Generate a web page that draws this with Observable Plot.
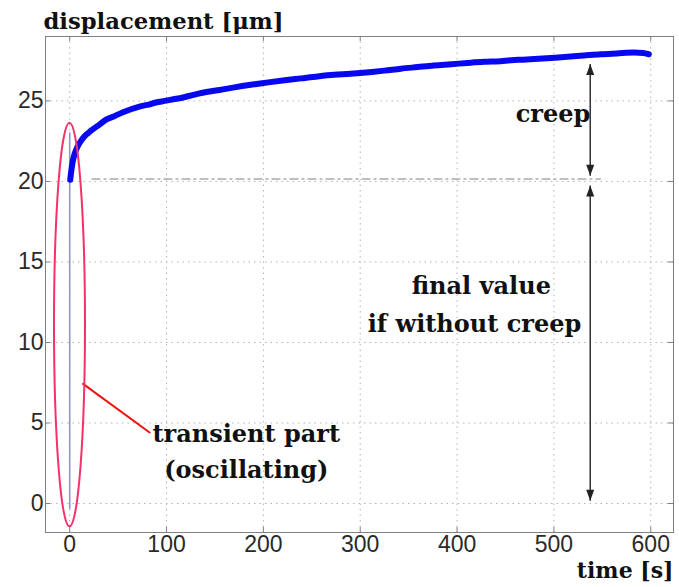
<!DOCTYPE html>
<html><head><meta charset="utf-8">
<script src="https://cdn.jsdelivr.net/npm/d3@7"></script>
<script src="https://cdn.jsdelivr.net/npm/@observablehq/plot@0.6"></script>
<style>body{margin:0;background:#fff}</style>
</head><body><div id="chart"></div>
<script>
// measured creep curve (time in s, displacement in µm)
const time = [0.5, 1.5, 3, 5, 8, 12, 17, 22, 30, 38, 46, 55, 64, 72, 80, 89, 98, 107, 116, 124, 133, 141, 155, 170, 187, 205, 222, 239, 256, 273, 290, 300, 312, 325, 342, 359, 376, 394, 411, 428, 445, 456, 468, 480, 497, 514, 531, 548, 565, 583, 592, 598];
const displacement = [20.1, 20.6, 21.2, 21.7, 22.15, 22.55, 22.9, 23.15, 23.5, 23.85, 24.05, 24.3, 24.5, 24.65, 24.75, 24.9, 25.0, 25.1, 25.2, 25.32, 25.45, 25.55, 25.68, 25.84, 26.0, 26.15, 26.28, 26.4, 26.52, 26.62, 26.68, 26.73, 26.8, 26.88, 27.0, 27.1, 27.2, 27.28, 27.36, 27.43, 27.47, 27.53, 27.56, 27.6, 27.67, 27.74, 27.82, 27.9, 27.95, 28.0, 27.97, 27.9];
// transient (oscillating) part at t = 0
const transientTime = [0, 0];
const transientDisp = [-0.3, 23.0];
// ticks and axis ranges
const xTicks = [0, 100, 200, 300, 400, 500, 600];
const yTicks = [0, 5, 10, 15, 20, 25];
const xDomain = [-25, 623.5];
const yDomain = [-1.8, 29];
// final value without creep (dash-dot reference line)
const refLineTime = [23, 548];
const refLineDisp = [20.15, 20.15];
// arrows
const arrowTime = 537.5;
const creepRange = [20.35, 27.3];
const finalRange = [0.17, 19.75];
// ellipse around transient part
const ellipseCenter = [0.3, 11.08];
const ellipseRadii = [16, 12.53];
// leader line
const leaderTime = [13.8, 82.5];
const leaderDisp = [7.43, 4.41];
// annotations
const annoText = ["creep", "final value", "if without creep", "transient part", "(oscillating)"];
const annoTime = [499, 425, 418, 182.3, 182.3];
const annoDisp = [23.66, 13.02, 10.62, 3.79, 1.61];
const titleText = "displacement [μm]";
const xLabelText = "time [s]";

const curve = time.map((t, i) => ({t, d: displacement[i]}));
const transient = transientTime.map((t, i) => ({t, d: transientDisp[i]}));
const refLine = refLineTime.map((t, i) => ({t, d: refLineDisp[i]}));
const leader = leaderTime.map((t, i) => ({t, d: leaderDisp[i]}));
const anno = annoText.map((s, i) => ({s, t: annoTime[i], d: annoDisp[i]}));
const arrows = [{t: arrowTime, d1: creepRange[0], d2: creepRange[1]}, {t: arrowTime, d1: finalRange[0], d2: finalRange[1]}];
const upTips = [creepRange[1], finalRange[1]].map(d => ({t: arrowTime, d}));
const downTips = [creepRange[0], finalRange[0]].map(d => ({t: arrowTime, d}));

const headUp = {draw(ctx) { ctx.moveTo(0, 0); ctx.lineTo(-4, 11); ctx.lineTo(4, 11); ctx.closePath(); }};
const headDown = {draw(ctx) { ctx.moveTo(0, 0); ctx.lineTo(-4, -11); ctx.lineTo(4, -11); ctx.closePath(); }};

const serif = "DejaVu Serif, serif";
const sans = "Liberation Sans, Arial, sans-serif";

const chart = Plot.plot({
  width: 679, height: 587,
  marginLeft: 45, marginRight: 6, marginTop: 36, marginBottom: 55,
  x: {domain: xDomain},
  y: {domain: yDomain},
  marks: [
    Plot.gridX(xTicks, {stroke: "#b4b4b4", strokeOpacity: 1, strokeDasharray: "1.5,4"}),
    Plot.gridY(yTicks, {stroke: "#b4b4b4", strokeOpacity: 1, strokeDasharray: "1.5,4"}),
    Plot.frame({stroke: "#808080"}),
    Plot.tickX(xTicks, {x: d => d, insetTop: 491, stroke: "#808080"}),
    Plot.tickX(xTicks, {x: d => d, insetBottom: 491, stroke: "#808080"}),
    Plot.tickY(yTicks, {y: d => d, insetRight: 623, stroke: "#808080"}),
    Plot.tickY(yTicks, {y: d => d, insetLeft: 623, stroke: "#808080"}),
    Plot.axisX(xTicks, {tickSize: 0, tickPadding: 3, fontSize: 23, fontFamily: sans, color: "#2a2a2a", label: null}),
    Plot.axisY(yTicks, {tickSize: 0, tickPadding: 2, fontSize: 23, fontFamily: sans, color: "#2a2a2a", label: null}),
    Plot.line(refLine, {x: "t", y: "d", stroke: "#aaa", strokeWidth: 1.3, strokeDasharray: "8,4,2,4"}),
    Plot.line(transient, {x: "t", y: "d", stroke: "#8f8ff2", strokeWidth: 1.6}),
    Plot.line(curve, {x: "t", y: "d", stroke: "#0808f0", strokeWidth: 6, curve: "monotone-x"}),
    Plot.link(arrows, {x1: "t", x2: "t", y1: "d1", y2: "d2", stroke: "#333", strokeWidth: 1.5}),
    Plot.dot(upTips, {x: "t", y: "d", symbol: headUp, fill: "#222", stroke: "none"}),
    Plot.dot(downTips, {x: "t", y: "d", symbol: headDown, fill: "#222", stroke: "none"}),
    Plot.line(leader, {x: "t", y: "d", stroke: "#ee1111", strokeWidth: 2}),
    Plot.text(anno, {x: "t", y: "d", text: "s", textAnchor: "middle", lineAnchor: "bottom", fontSize: 24, fontWeight: "bold", fontFamily: serif, fill: "#111"}),
    Plot.text([titleText], {x: () => xDomain[0], y: () => yDomain[1], text: d => d, textAnchor: "start", lineAnchor: "bottom", dx: -2, dy: -8, fontSize: 22.7, fontWeight: "bold", fontFamily: serif, fill: "#111"}),
    Plot.text([xLabelText], {x: () => xDomain[1], y: () => yDomain[0], text: d => d, textAnchor: "end", lineAnchor: "bottom", dx: 0, dy: 45, fontSize: 22, fontWeight: "bold", fontFamily: serif, fill: "#111"})
  ]
});

const sx = chart.scale("x"), sy = chart.scale("y");
const cx = sx.apply(ellipseCenter[0]), cy = sy.apply(ellipseCenter[1]);
const rx = sx.apply(ellipseCenter[0] + ellipseRadii[0]) - cx;
const ry = sy.apply(ellipseCenter[1] - ellipseRadii[1]) - cy;
d3.select(chart).append("ellipse")
  .attr("cx", cx).attr("cy", cy).attr("rx", rx).attr("ry", ry)
  .attr("fill", "none").attr("stroke", "#f5306a").attr("stroke-width", 2);

document.getElementById("chart").appendChild(chart);
</script>
</body></html>
